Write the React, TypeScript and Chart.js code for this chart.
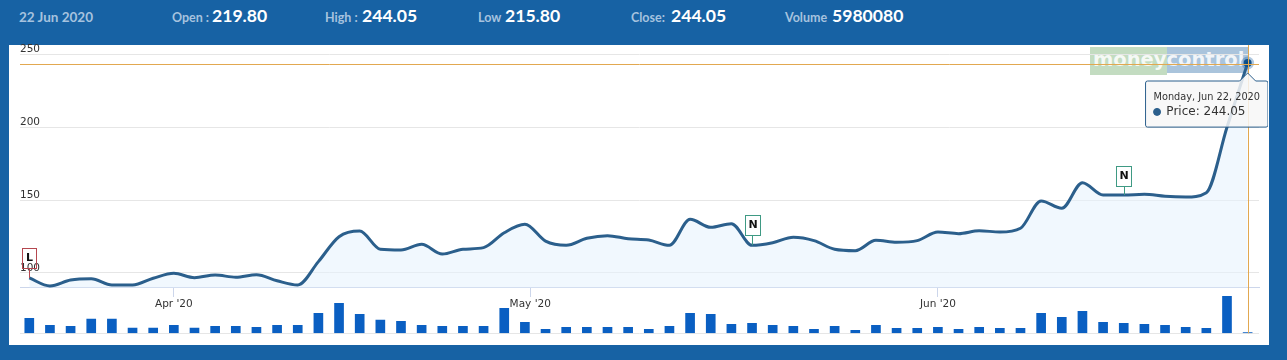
import React, { useEffect, useRef } from "react";
import { Chart, registerables } from "chart.js";

Chart.register(...registerables);

const priceValues = [
  96.6, 91.1, 95.2, 96.1, 91.8, 91.8, 96.4, 99.8, 96.8, 98.6, 97.1, 98.8, 94.7, 91.8, 107.8, 124.9, 128.8, 116.3, 115.8, 119.7,
  113.0, 116.3, 117.4, 127.6, 133.4, 121.9, 119.0, 123.8, 125.6, 123.5, 122.6, 119.0, 136.8, 131.3, 133.8, 119.0, 120.8, 124.5, 122.2, 116.3,
  115.3, 122.4, 121.1, 122.2, 128.1, 127.0, 129.0, 128.1, 130.7, 149.4, 144.4, 161.9, 153.5, 153.5, 154.0, 152.6, 152.1, 155.1, 200.0, 244.05,
];
const volumeValues = [
  2420000, 1290000, 1130000, 2310000, 2310000, 860000, 860000, 1290000, 860000, 1130000, 1130000, 970000, 1290000, 1290000, 3230000, 4850000, 3070000, 2150000, 1940000, 1290000,
  1130000, 1130000, 1130000, 4040000, 1780000, 650000, 970000, 970000, 970000, 970000, 650000, 1130000, 3230000, 3070000, 1450000, 1620000, 1290000, 1130000, 650000, 1130000,
  480000, 1290000, 810000, 810000, 970000, 650000, 970000, 810000, 810000, 3230000, 2590000, 3550000, 1780000, 1620000, 1450000, 1290000, 970000, 810000, 5980080, 120000,
];
const priceTicks = [100, 150, 200, 250];
const monthTickPositions = [7, 24.26, 44];
const monthTickLabels = ["Apr '20", "May '20", "Jun '20"];
const flagPoints = [
  { index: 0, text: "L", color: "#b5474f", rise: 30 },
  { index: 35, text: "N", color: "#3f9a84", rise: 30 },
  { index: 53, text: "N", color: "#3f9a84", rise: 29 },
];
const headerItems = [
  { left: 172, label: "Open :", value: "219.80", valueLeft: 212 },
  { left: 325, label: "High :", value: "244.05", valueLeft: 362 },
  { left: 478, label: "Low", value: "215.80", valueLeft: 505 },
  { left: 631, label: "Close:", value: "244.05", valueLeft: 671 },
  { left: 785, label: "Volume", value: "5980080", valueLeft: 832 },
];
const activeIndex = priceValues.length - 1;
const tooltipTitle = "Monday, Jun 22, 2020";
const BLUE = "#1762a4";
const LINE = "#2b5f8c";
const ORANGE = "#e2a850";

const crosshair = {
  id: "crosshair",
  afterDatasetsDraw(chart: any) {
    const { ctx, chartArea, scales } = chart;
    const px = Math.round(scales.x.getPixelForValue(activeIndex)) + 0.5;
    const py = Math.round(scales.y.getPixelForValue(priceValues[activeIndex])) + 1.5;
    ctx.save();
    ctx.strokeStyle = ORANGE;
    ctx.lineWidth = 1;
    ctx.beginPath();
    ctx.moveTo(chartArea.left, py);
    ctx.lineTo(chartArea.right, py);
    ctx.moveTo(px, chartArea.top);
    ctx.lineTo(px, chartArea.bottom);
    ctx.stroke();
    ctx.restore();
  },
};

const flags = {
  id: "flags",
  afterDatasetsDraw(chart: any) {
    const { ctx, scales } = chart;
    ctx.save();
    flagPoints.forEach((f) => {
      const px = scales.x.getPixelForValue(f.index);
      const py = scales.y.getPixelForValue(priceValues[f.index]);
      const w = f.text === "L" ? 14 : 15;
      const h = 20;
      const top = py - f.rise;
      ctx.strokeStyle = f.color;
      ctx.lineWidth = 1;
      ctx.beginPath();
      ctx.moveTo(Math.round(px) + 0.5, top + h);
      ctx.lineTo(Math.round(px) + 0.5, py);
      ctx.stroke();
      const bx = Math.round(px - w / 2 - (f.text === "L" ? 0.5 : 0)) + 0.5;
      if (f.text !== "L") {
        ctx.fillStyle = "#ffffff";
        ctx.fillRect(bx, Math.round(top) + 0.5, w, h);
      }
      ctx.strokeRect(bx, Math.round(top) + 0.5, w, h);
      ctx.fillStyle = "#111111";
      ctx.font = "bold 11px 'DejaVu Sans'";
      ctx.textAlign = "center";
      ctx.textBaseline = "middle";
      ctx.fillText(f.text, bx + w / 2, top + h / 2);
    });
    ctx.restore();
  },
};

export default function App() {
  const ref = useRef<HTMLCanvasElement | null>(null);

  useEffect(() => {
    const chart = new Chart(ref.current as HTMLCanvasElement, {
      type: "bar",
      data: {
        datasets: [
          {
            type: "line",
            label: "Price",
            data: priceValues.map((v, i) => ({ x: i, y: v })),
            yAxisID: "y",
            borderColor: LINE,
            borderWidth: 3,
            cubicInterpolationMode: "monotone",
            fill: "start",
            backgroundColor: "rgba(230,243,253,0.55)",
            clip: false,
            pointRadius: (c: any) => (c.dataIndex === activeIndex ? 4 : 0),
            pointBackgroundColor: "#1d4f78",
            pointBorderColor: "rgba(60,110,160,0.35)",
            pointBorderWidth: 5,
            pointHoverRadius: 4,
            pointHoverBorderWidth: 5,
            order: 1,
          } as any,
          {
            type: "bar",
            label: "Volume",
            data: volumeValues.map((v, i) => ({ x: i, y: v })),
            yAxisID: "yVol",
            backgroundColor: "#0a5fc2",
            barThickness: 9,
            order: 2,
          } as any,
        ],
      },
      options: {
        responsive: false,
        animation: false,
        events: [],
        layout: { padding: { left: 20, right: 9, top: 45, bottom: 26.7 } },
        scales: {
          x: {
            type: "linear",
            min: -0.45,
            max: 59.55,
            offset: false,
            position: { y: 90.05 } as any,
            afterBuildTicks(scale: any) {
              scale.ticks = monthTickPositions.map((value) => ({ value }));
            },
            grid: { offset: false, drawOnChartArea: false, tickLength: 9, color: "#ccd6eb" },
            border: { color: "#ccd6eb" },
            ticks: {
              autoSkip: false,
              maxRotation: 0,
              padding: 1,
              color: "#333333",
              font: { family: "'DejaVu Sans'", size: 10.5 },
              callback: (v: any) => monthTickLabels[monthTickPositions.indexOf(Number(v))] ?? "",
            },
          },
          y: {
            position: "left",
            stack: "panes",
            stackWeight: 242.5,
            weight: 2,
            min: 90.05,
            max: 256.4,
            afterBuildTicks(scale: any) {
              scale.ticks = priceTicks.map((value) => ({ value }));
            },
            grid: { color: "#e6e6e6", drawTicks: false },
            border: { display: false },
            ticks: {
              mirror: true,
              padding: 0,
              labelOffset: -5,
              color: "#333333",
              font: { family: "'DejaVu Sans'", size: 10.5 },
            },
          },
          yVol: {
            position: "left",
            stack: "panes",
            stackWeight: 45.8,
            weight: 1,
            min: 0,
            max: 7400000,
            afterBuildTicks(scale: any) {
              scale.ticks = [{ value: 0 }];
            },
            grid: { color: "#e6e6e6", drawTicks: false },
            border: { display: false },
            ticks: { display: false },
          },
        },
        plugins: {
          legend: { display: false },
          tooltip: {
            enabled: true,
            xAlign: "center",
            yAlign: "top",
            caretSize: 8,
            caretPadding: 10,
            cornerRadius: 2,
            backgroundColor: "rgba(247,247,247,0.85)",
            borderColor: LINE,
            borderWidth: 1,
            padding: { left: 8, right: 8, top: 11, bottom: 8 },
            titleColor: "#333333",
            bodyColor: "#333333",
            titleFont: { family: "'DejaVu Sans'", size: 9.75, weight: "normal" },
            bodyFont: { family: "'DejaVu Sans'", size: 12 },
            titleMarginBottom: 1,
            usePointStyle: true,
            boxWidth: 7,
            boxHeight: 7,
            displayColors: true,
            callbacks: {
              title: () => tooltipTitle,
              label: (c: any) => ` ${c.dataset.label}: ${c.parsed.y.toFixed(2)}`,
              labelColor: () => ({ backgroundColor: LINE, borderColor: LINE, borderWidth: 0 }),
              labelPointStyle: () => ({ pointStyle: "circle", rotation: 0 }),
            },
          },
        },
      },
      plugins: [crosshair, flags],
    } as any);

    const active = [{ datasetIndex: 0, index: activeIndex }];
    const el = chart.getDatasetMeta(0).data[activeIndex];
    chart.setActiveElements(active);
    chart.tooltip?.setActiveElements(active, { x: el.x, y: el.y });
    chart.update();

    return () => chart.destroy();
  }, []);

  const labelStyle: React.CSSProperties = {
    position: "absolute",
    top: 9,
    lineHeight: "17px",
    fontFamily: "Lato, sans-serif",
    fontSize: 12.5,
    fontWeight: 700,
    color: "#a6c2df",
  };
  const valueStyle: React.CSSProperties = {
    position: "absolute",
    top: 6,
    lineHeight: "20px",
    fontFamily: "Lato, sans-serif",
    fontSize: 17.6,
    fontWeight: 700,
    color: "#ffffff",
  };

  return (
    <div style={{ position: "fixed", left: 0, top: 0, width: 1287, height: 360, background: BLUE, overflow: "hidden" }}>
      <span style={{ ...labelStyle, left: 19, fontSize: 13.5 }}>22 Jun 2020</span>
      {headerItems.map((h) => (
        <React.Fragment key={h.left}>
          <span style={{ ...labelStyle, left: h.left }}>{h.label}</span>
          <span style={{ ...valueStyle, left: h.valueLeft }}>{h.value}</span>
        </React.Fragment>
      ))}
      <div style={{ position: "absolute", left: 9, top: 45, width: 1260, height: 300, background: "#ffffff" }} />
      <div style={{ position: "absolute", left: 1090, top: 47, width: 77, height: 28, background: "#c3dcc1" }} />
      <div style={{ position: "absolute", left: 1167, top: 47, width: 82, height: 26, background: "#aac4dc" }} />
      <div
        style={{
          position: "absolute",
          left: 1093,
          top: 46,
          lineHeight: "28px",
          fontFamily: "'DejaVu Sans', sans-serif",
          fontWeight: 700,
          fontSize: 19.5,
          color: "rgba(255,255,255,0.85)",
          whiteSpace: "nowrap",
        }}
      >
        moneycontrol
      </div>
      <canvas ref={ref} width={1268} height={360} style={{ position: "absolute", left: 0, top: 0, display: "block" }} />
    </div>
  );
}
